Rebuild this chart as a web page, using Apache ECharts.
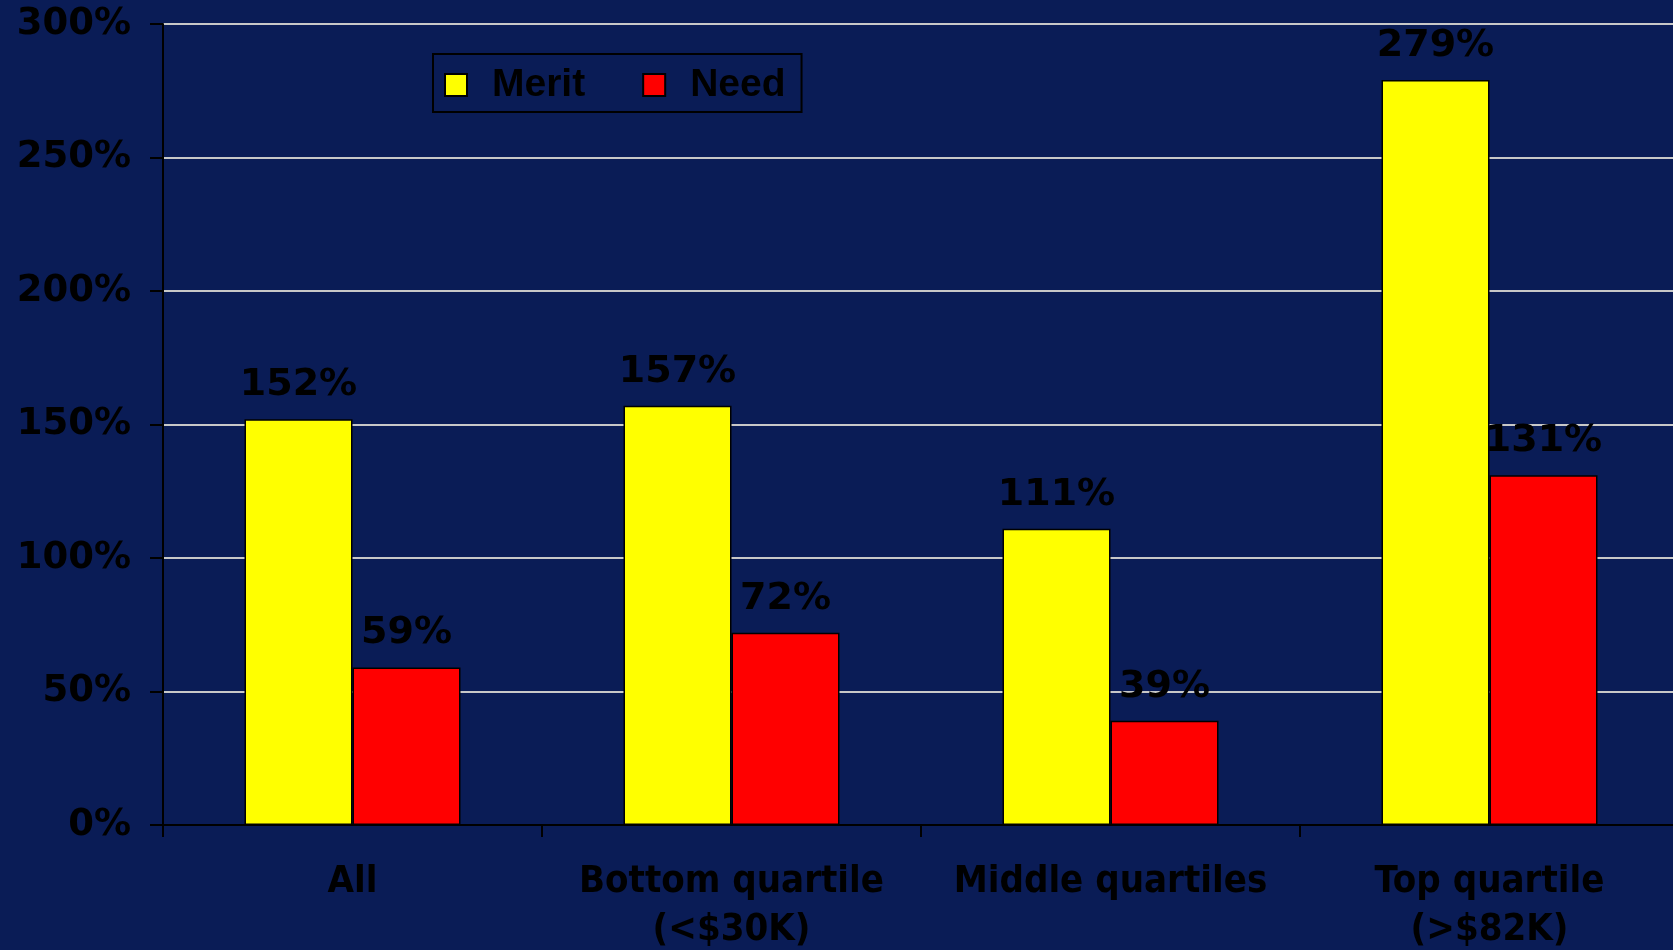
<!DOCTYPE html>
<html>
<head>
<meta charset="utf-8">
<script src="https://cdn.jsdelivr.net/npm/echarts@6/dist/echarts.min.js"></script>
<style>
  html, body { margin: 0; padding: 0; background: #0a1c56; }
  #chart { width: 1673px; height: 950px; }
</style>
</head>
<body>
<div id="chart"></div>
<script>
const categories = ["All", "Bottom quartile\n(<$30K)", "Middle quartiles", "Top quartile\n(>$82K)"];
const meritData = [152, 157, 111, 279];
const needData = [59, 72, 39, 131];
const seriesNames = ["Merit", "Need"];

const numFont = "DejaVu Sans";
const catFont = "DejaVu Sans Condensed";

const labelStyle = {
  show: true,
  position: "top",
  distance: 15,
  color: "#000",
  fontFamily: numFont,
  fontWeight: "bold",
  fontSize: 38,
  formatter: (p) => p.value + "%",
};

const chart = echarts.init(document.getElementById("chart"));

chart.setOption({
  animation: false,
  backgroundColor: "#0a1c56",
  legend: {
    data: seriesNames,
    left: 433,
    top: 54,
    orient: "horizontal",
    icon: "rect",
    itemWidth: 22,
    itemHeight: 22,
    itemGap: 57,
    padding: [11, 16, 7, 11],
    borderColor: "#000",
    borderWidth: 2,
    itemStyle: { borderColor: "#000", borderWidth: 2 },
    textStyle: {
      color: "#000",
      fontFamily: "Liberation Sans",
      fontWeight: "bold",
      fontSize: 39,
      lineHeight: 40,
      padding: [0, 0, 0, 20],
    },
  },
  grid: {
    left: 163,
    top: 24,
    width: 1516,
    height: 801,
    containLabel: false,
    outerBoundsMode: "none",
  },
  xAxis: {
    type: "category",
    data: categories,
    axisLine: { lineStyle: { color: "#000", width: 2 } },
    axisTick: { show: true, length: 12, lineStyle: { color: "#000", width: 2 } },
    axisLabel: {
      interval: 0,
      margin: 33,
      color: "#000",
      fontFamily: catFont,
      fontWeight: "bold",
      fontSize: 38,
      lineHeight: 48,
    },
  },
  yAxis: {
    type: "value",
    min: 0,
    max: 300,
    interval: 50,
    axisLine: { show: true, lineStyle: { color: "#000", width: 2 } },
    axisTick: { show: true, length: 13, lineStyle: { color: "#000", width: 2 } },
    axisLabel: {
      margin: 32,
      color: "#000",
      fontFamily: numFont,
      fontWeight: "bold",
      fontSize: 37,
      formatter: "{value}%",
    },
    splitLine: { lineStyle: { color: "#c8c8c8", width: 2 } },
  },
  series: [
    {
      name: seriesNames[0],
      type: "bar",
      data: meritData,
      barWidth: 108,
      barGap: "0%",
      itemStyle: { color: "#ffff00", borderColor: "#000", borderWidth: 1.5 },
      label: labelStyle,
    },
    {
      name: seriesNames[1],
      type: "bar",
      data: needData,
      barWidth: 108,
      barGap: "0%",
      itemStyle: { color: "#ff0000", borderColor: "#000", borderWidth: 1.5 },
      label: labelStyle,
    },
  ],
});
</script>
</body>
</html>
